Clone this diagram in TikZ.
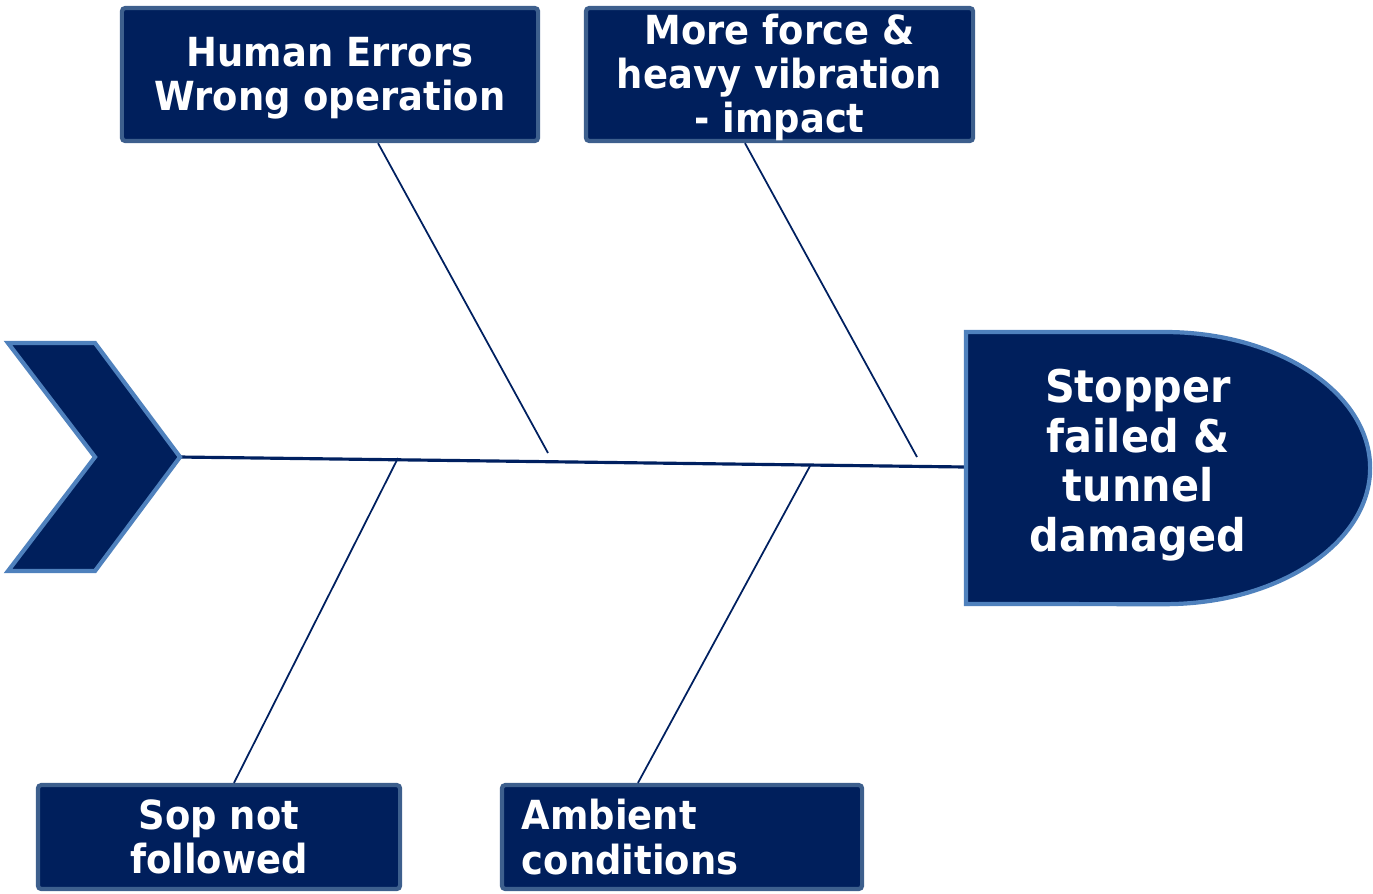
\documentclass[tikz,border=0pt]{standalone}
\usepackage{fontspec}
\setmainfont{DejaVu Sans}[FakeStretch=0.92]
\usetikzlibrary{positioning}

\definecolor{navy}{RGB}{0,31,92}
\definecolor{boxline}{RGB}{61,95,141}
\definecolor{rim}{RGB}{79,129,189}
\definecolor{bonecol}{RGB}{0,32,96}

\begin{document}
\begin{tikzpicture}[x=0.01cm, y=-0.01cm,
		cause/.style={draw=boxline, fill=navy, line width=1.2pt, rounded corners=1pt, text=white,
			font=\bfseries\fontsize{11.4}{12.6}\selectfont, align=center, inner sep=0pt},
		bone/.style={draw=bonecol, line width=0.5pt},
		spine/.style={draw=bonecol, line width=0.9pt},
		rimmed/.style={draw=rim, fill=navy, line width=1.2pt, line join=miter}]
	\useasboundingbox (0,0) rectangle (1373,893);

	% causes
	\node[cause, minimum width=4.16cm, minimum height=1.33cm] (human) at (330,74.5) {\raisebox{-0.05cm}[\height][\depth]{\begin{tabular}{@{}c@{}}Human Errors\\Wrong operation\end{tabular}}};
	\node[cause, minimum width=3.87cm, minimum height=1.33cm] (force) at (779.5,74.5) {\raisebox{-0.05cm}[\height][\depth]{\begin{tabular}{@{}c@{}}More force \&\\heavy vibration\\- impact\end{tabular}}};
	\node[cause, minimum width=3.62cm, minimum height=1.04cm] (sop) at (219,837) {Sop not\\followed};
	\node[cause, text width=3.2cm, align=left, inner xsep=0.2cm, minimum height=1.04cm] (ambient) at (682,837) {Ambient\\conditions};

	% spine
	\coordinate (tip) at (180,457);
	\coordinate (neck) at (966,467);
	\draw[spine] (tip) -- (neck);

	% bones
	\coordinate (j1) at (548,453);
	\coordinate (j2) at (917,457);
	\coordinate (j3) at (398,458);
	\coordinate (j4) at (810,466);
	\draw[bone] ([xshift=0.48cm]human.south) -- (j1);
	\draw[bone] ([xshift=-0.345cm]force.south) -- (j2);
	\draw[bone] ([xshift=0.15cm]sop.north) -- (j3);
	\draw[bone] ([xshift=-0.44cm]ambient.north) -- (j4);

	% tail and head
	\draw[rimmed] (8,343) -- (95,343) -- (tip) -- (95,571) -- (8,571) -- (95,457) -- cycle;
	\draw[rimmed] (966,332) -- (1165,332) arc[start angle=90, end angle=-90, x radius=2.05cm, y radius=1.36cm] -- (966,604) -- cycle;
	\node[text=white, align=center, font=\bfseries\fontsize{12.8}{14.1}\selectfont] (effect) at (1138,465) {Stopper\\failed \&\\tunnel\\damaged};
\end{tikzpicture}
\end{document}
